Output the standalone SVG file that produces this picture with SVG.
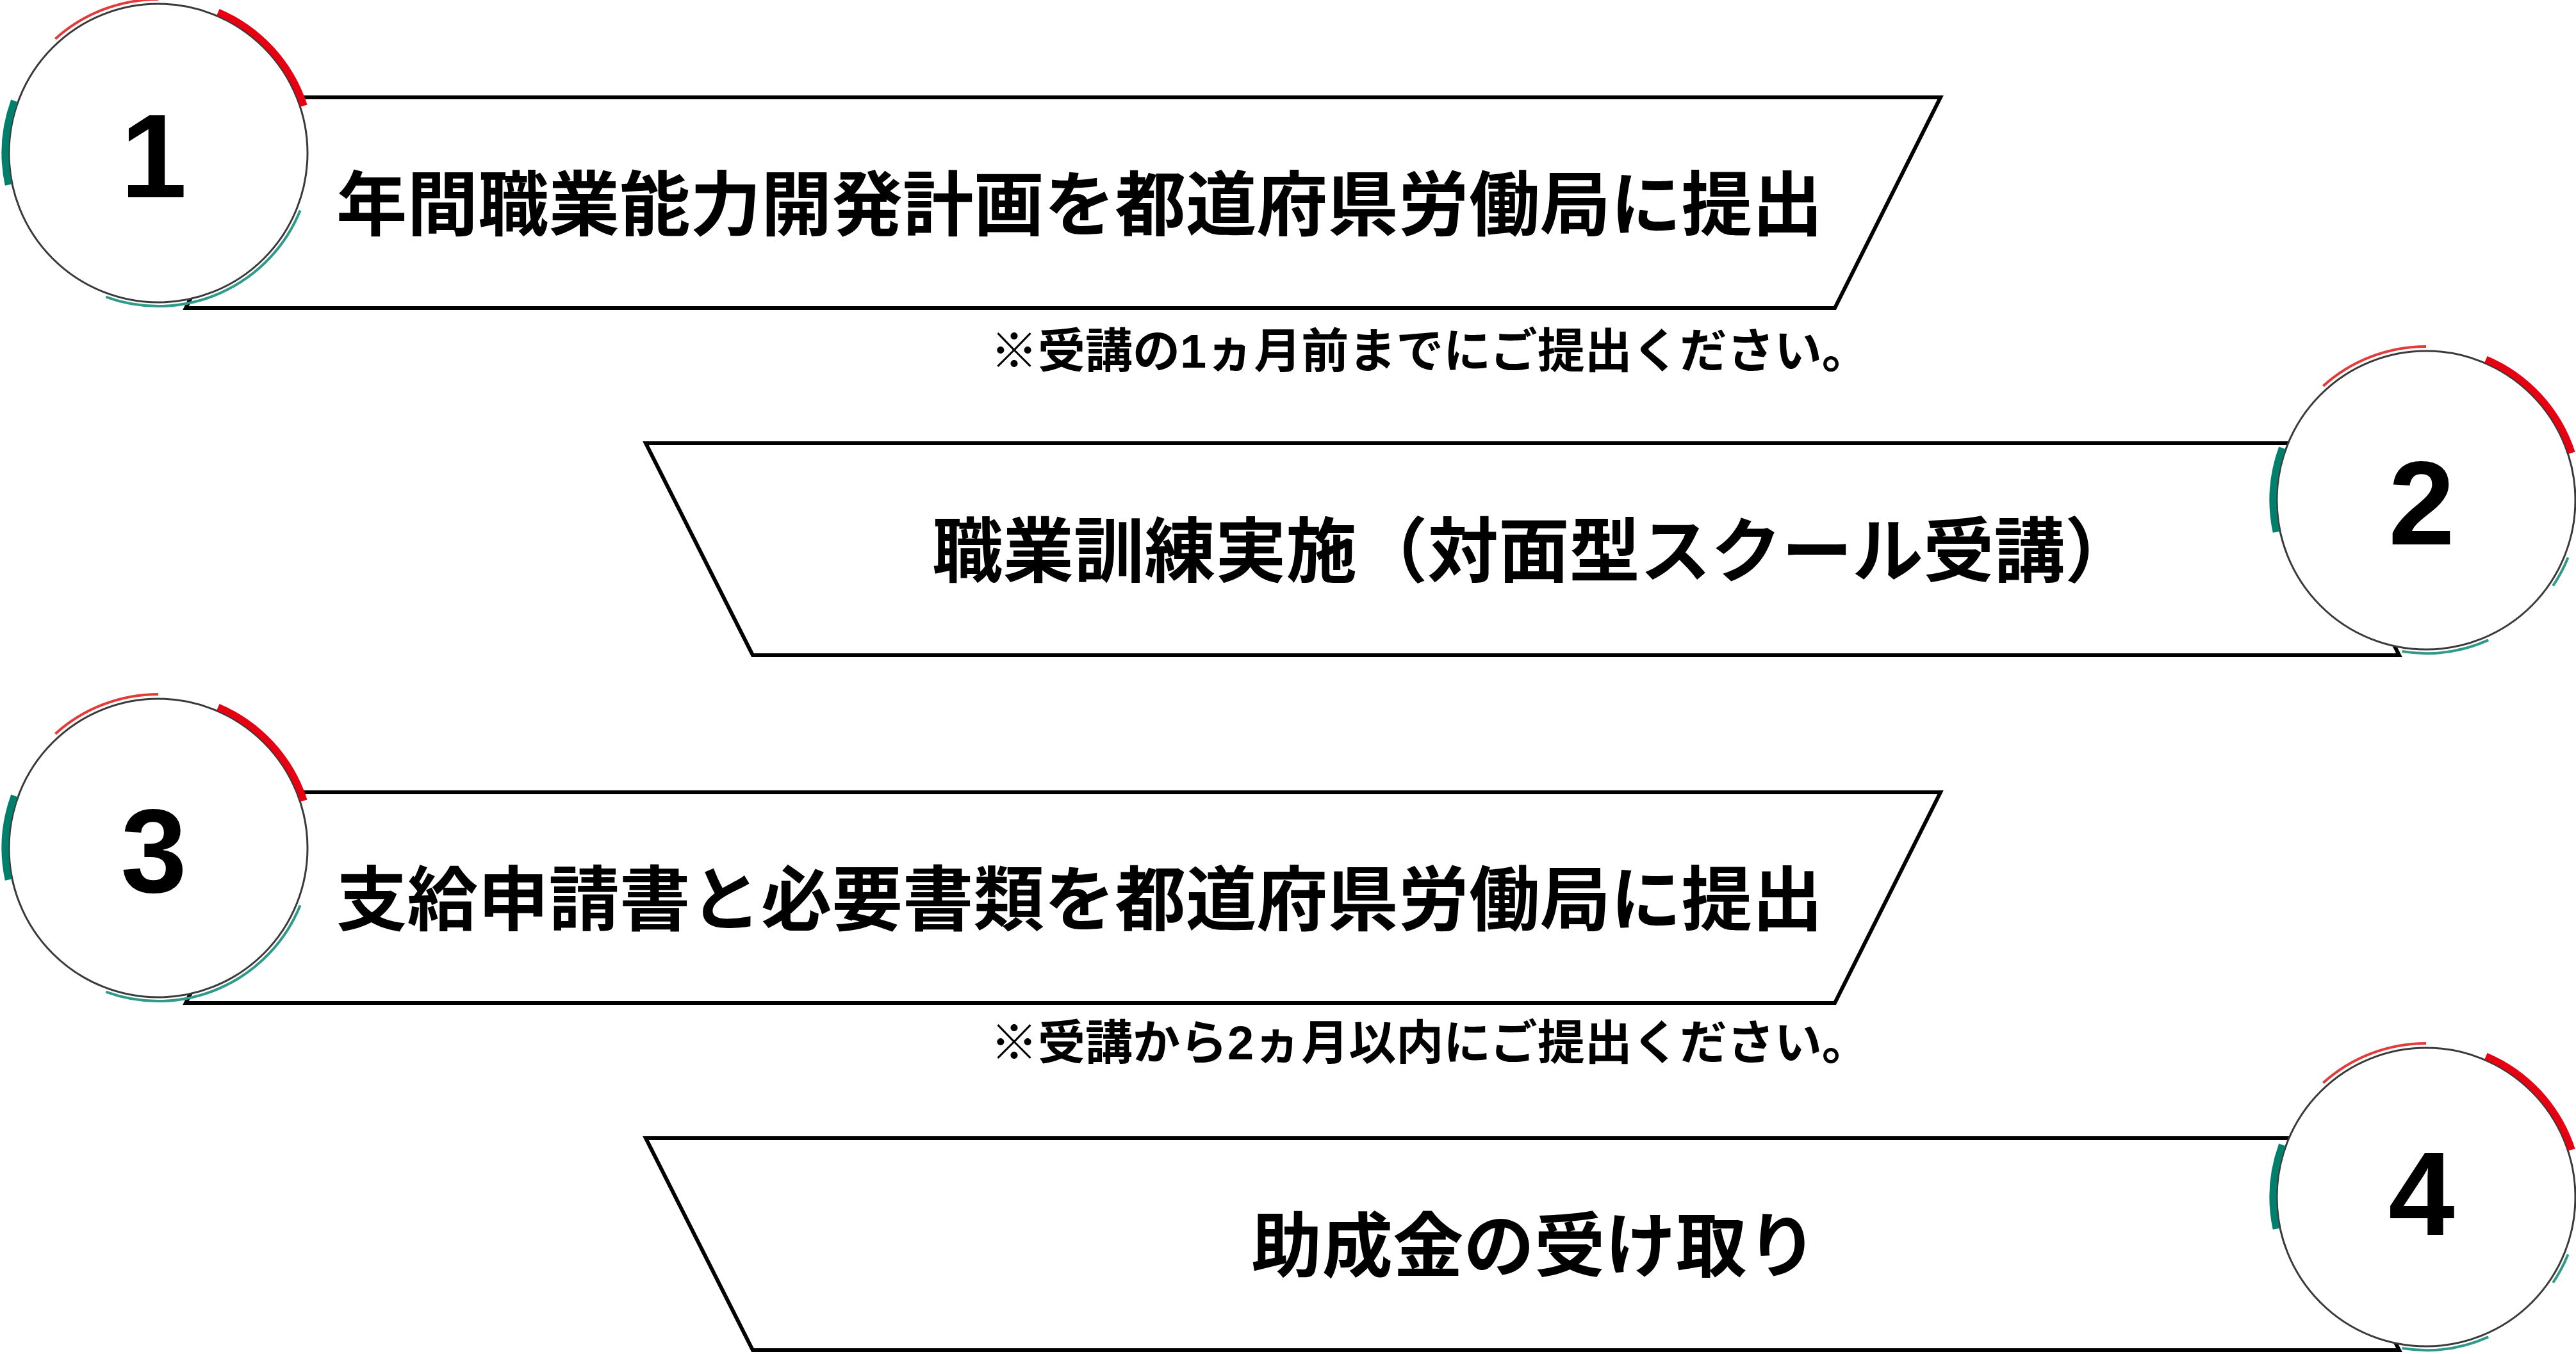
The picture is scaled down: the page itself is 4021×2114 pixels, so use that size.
<svg xmlns="http://www.w3.org/2000/svg" xmlns:xlink="http://www.w3.org/1999/xlink" width="4021" height="2114" viewBox="0 0 4021 2114">
<style>
.bg{fill:#ffffff}
.par{fill:#ffffff;stroke:#000000;stroke-width:6;stroke-linejoin:miter}
.ring{fill:#ffffff;stroke:#3a3a3a;stroke-width:3}
.thinred{fill:none;stroke:#e53a3a;stroke-width:4}
.thickred{fill:none;stroke:#e60012;stroke-width:11}
.thickteal{fill:none;stroke:#00806c;stroke-width:11}
.thinteal{fill:none;stroke:#2f9a8a;stroke-width:4}
.num{font-family:"Liberation Sans",Arial,sans-serif;font-weight:bold;font-size:186px;fill:#000000;text-anchor:middle}
.main{font-family:"Liberation Sans","Noto Sans CJK JP",sans-serif;font-weight:bold;font-size:110.5px;fill:#000000}
.note{font-family:"Liberation Sans","Noto Sans CJK JP",sans-serif;font-weight:bold;font-size:74px;fill:#000000}
</style>
<defs>
<g id="arcsA">
<path class="thinred" d="M -160.6 -178.3 A 240 240 0 0 1 0 -240"/>
<path class="thickred" d="M 93.4 -220 A 239 239 0 0 1 227.3 -73.9"/>
<path class="thickteal" d="M -233.8 49.7 A 239 239 0 0 1 -224.6 -81.7"/>
<path class="thinteal" d="M 221.6 89.5 A 239 239 0 0 1 -81.7 224.6"/>
</g>
<g id="arcsB">
<path class="thinred" d="M -160.6 -178.3 A 240 240 0 0 1 0 -240"/>
<path class="thickred" d="M 93.4 -220 A 239 239 0 0 1 227.3 -73.9"/>
<path class="thickteal" d="M -233.8 49.7 A 239 239 0 0 1 -224.6 -81.7"/>
<path class="thinteal" d="M 221.6 89.5 A 239 239 0 0 1 198.1 133.6"/>
<path class="thinteal" d="M 97.2 218.3 A 239 239 0 0 1 -37.4 236.1"/>
</g>
</defs>
<rect class="bg" x="0" y="0" width="4021" height="2114"/>

<g id="step1">
<polygon class="par" points="455,152 3029,152 2864,481 290,481"/>
<text class="main" x="525" y="359">年間職業能力開発計画を都道府県労働局に提出</text>
<circle class="ring" cx="247" cy="239" r="233"/>
<use xlink:href="#arcsA" href="#arcsA" transform="translate(247,239)"/>
<text class="num" x="240" y="308">1</text>
</g>
<g id="note1">
<text class="note" x="1546" y="574">※受講の1ヵ月前までにご提出ください。</text>
</g>

<g id="step2">
<polygon class="par" points="1008,692 3578,692 3745,1023 1175,1023"/>
<text class="main" x="1455" y="900">職業訓練実施（対面型スクール受講）</text>
<circle class="ring" cx="3787" cy="781" r="233"/>
<use xlink:href="#arcsB" href="#arcsB" transform="translate(3787,781)"/>
<text class="num" x="3780" y="850">2</text>
</g>

<g id="step3">
<polygon class="par" points="455,1237 3029,1237 2864,1566 290,1566"/>
<text class="main" x="525" y="1444">支給申請書と必要書類を都道府県労働局に提出</text>
<circle class="ring" cx="247" cy="1324" r="233"/>
<use xlink:href="#arcsA" href="#arcsA" transform="translate(247,1324)"/>
<text class="num" x="240" y="1393">3</text>
</g>
<g id="note2">
<text class="note" x="1546" y="1654">※受講から2ヵ月以内にご提出ください。</text>
</g>

<g id="step4">
<polygon class="par" points="1008,1777 3578,1777 3745,2108 1175,2108"/>
<text class="main" x="1953" y="1985">助成金の受け取り</text>
<circle class="ring" cx="3787" cy="1869" r="233"/>
<use xlink:href="#arcsB" href="#arcsB" transform="translate(3787,1869)"/>
<text class="num" x="3780" y="1928">4</text>
</g>
</svg>
